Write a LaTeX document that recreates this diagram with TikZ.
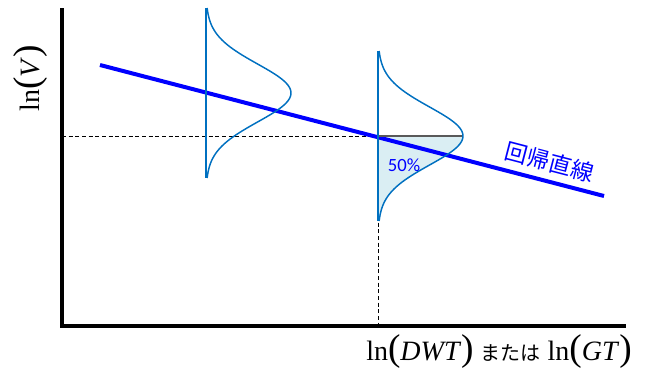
\documentclass[tikz,border=0pt]{standalone}
\usepackage{fontspec}
\setmainfont{Liberation Serif}
\newfontfamily\cjk{Noto Sans CJK JP}
\newfontfamily\calib{Carlito}
\usetikzlibrary{positioning}

\definecolor{lineblue}{RGB}{0,0,255}
\definecolor{distblue}{RGB}{0,112,192}
\definecolor{fillblue}{RGB}{218,238,243}
\definecolor{midgray}{RGB}{89,89,89}

\newcommand{\bigpar}[1]{{\fontsize{28}{28}\selectfont #1}}

\begin{document}
\begin{tikzpicture}[x=0.75pt, y=-0.75pt, every node/.style={inner sep=0pt},
  axis/.style={line width=2.4pt, black},
  guide/.style={black, line width=0.5pt, dash pattern=on 3pt off 2pt},
  dist/.style={distblue, line width=1.1pt},
  regline/.style={lineblue, line width=3pt}]
  \useasboundingbox (0,0) rectangle (649,371);
  % axes
  \coordinate (o) at (62,326);
  \coordinate (ytop) at (62,8);
  \coordinate (xend) at (626,326);
  \draw[axis] (ytop) -- (o) -- (xend);
  % guides to the mean
  \coordinate (m) at (378,136);
  \coordinate (mx) at (62,136);
  \coordinate (my) at (378,326);
  \draw[guide] (mx) -- (m);
  \draw[guide] (m) -- (my);
  % lower half of the right distribution
  \fill[fillblue] (m) -- plot[domain=0:85, samples=50] ({378+85*exp(-\x*\x/1682)},{136+\x}) -- cycle;
  % regression line
  \coordinate (r1) at (100,65);
  \coordinate (r2) at (604,196);
  \draw[regline] (r1) -- (r2);
  % distributions
  \draw[dist] (206,8) -- (206,178);
  \draw[dist] plot[domain=-85:85, samples=80] ({206+85*exp(-\x*\x/1682)},{93+\x});
  \coordinate (pk) at (463,136);
  \draw[midgray, line width=1.4pt] (m) -- (pk);
  \draw[dist] (378,51) -- (378,221);
  \draw[dist] plot[domain=-85:85, samples=80] ({378+85*exp(-\x*\x/1682)},{136+\x});
  % labels
  \node[lineblue, font=\calib\fontsize{14}{14}\selectfont] (pct) at (404,165) {50\%};
  \node[lineblue, font=\cjk\fontsize{17}{17}\selectfont, rotate=-14.6] (reg) at (550,162) {回帰直線};
  \node[rotate=90, font=\fontsize{21}{21}\selectfont] (ylab) at (31,78) {ln\bigpar{(}\textit{V}\bigpar{)}};
  \node[font=\fontsize{21}{21}\selectfont] (xlab) at (499,352)
    {ln\bigpar{(}\textit{DWT}\bigpar{)} {\cjk\fontsize{15}{15}\selectfont または} ln\bigpar{(}\textit{GT}\bigpar{)}};
\end{tikzpicture}
\end{document}
